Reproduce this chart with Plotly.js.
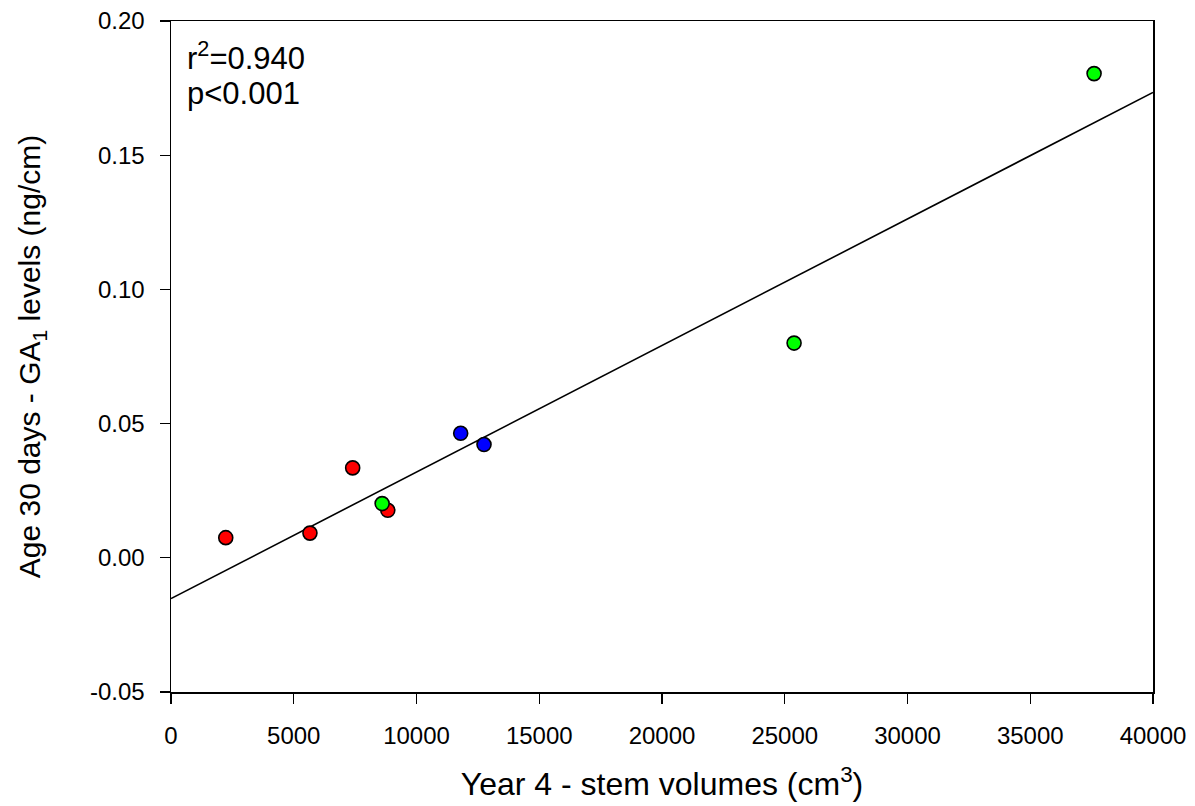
<!DOCTYPE html>
<html>
<head>
<meta charset="utf-8">
<script src="https://cdn.plot.ly/plotly-3.0.1.min.js"></script>
<style>body{margin:0;background:#fff}#chart{width:1195px;height:806px}</style>
</head>
<body>
<div id="chart"></div>
<script>
// Data
const redX = [2230, 5660, 7400, 8830];
const redY = [0.0075, 0.0092, 0.0335, 0.0177];
const greenX = [8600, 25380, 37600];
const greenY = [0.0202, 0.0800, 0.1804];
const blueX = [11800, 12750];
const blueY = [0.0464, 0.0422];
const fitX = [0, 40000];
const fitY = [-0.0152, 0.1734];
const xTicks = [0, 5000, 10000, 15000, 20000, 25000, 30000, 35000, 40000];
const yTicks = [-0.05, 0.00, 0.05, 0.10, 0.15, 0.20];
const yTickText = ["-0.05", "0.00", "0.05", "0.10", "0.15", "0.20"];
const statLines = ["r<sup>2</sup>=0.940", "p&lt;0.001"];

const font = "Liberation Sans, Arial, sans-serif";
function markerOf(c){ return {size: 14, color: c, line: {color: '#000', width: 1.6}}; }

const traces = [
  {x: fitX, y: fitY, mode: 'lines', line: {color: '#000', width: 1.6}, hoverinfo: 'skip'},
  {x: redX, y: redY, mode: 'markers', marker: markerOf('#FF0000')},
  {x: greenX, y: greenY, mode: 'markers', marker: markerOf('#00FF00')},
  {x: blueX, y: blueY, mode: 'markers', marker: markerOf('#0000FF')}
];

const axisCommon = {
  ticks: 'outside', ticklen: 10, tickwidth: 1.4, tickcolor: '#000',
  showline: true, linecolor: '#000', linewidth: 1.5, mirror: true,
  showgrid: false, zeroline: false,
  tickfont: {family: font, size: 24, color: '#000'}
};

const layout = {
  width: 1195, height: 806,
  margin: {l: 171, r: 42, t: 21, b: 114, pad: 0},
  paper_bgcolor: '#fff', plot_bgcolor: '#fff',
  showlegend: false,
  font: {family: font, color: '#000', size: 24},
  xaxis: Object.assign({}, axisCommon, {
    range: [0, 40000], tickvals: xTicks, ticktext: xTicks.map(String),
    ticklabelstandoff: 12,
    title: {text: 'Year 4 - stem volumes (cm<sup>3</sup>)', font: {family: font, size: 32, color: '#000'}, standoff: 24}
  }),
  yaxis: Object.assign({}, axisCommon, {
    range: [-0.05, 0.20], tickvals: yTicks, ticktext: yTickText,
    ticklabelstandoff: 10,
    title: {text: 'Age 30 days - GA<sub>1</sub> levels (ng/cm)', font: {family: font, size: 30, color: '#000'}, standoff: 40}
  }),
  annotations: [
    {xref: 'paper', yref: 'paper', x: 0.014, y: 0.948, xanchor: 'left', yanchor: 'middle',
     text: statLines[0], showarrow: false, align: 'left', font: {family: font, size: 31, color: '#000'}},
    {xref: 'paper', yref: 'paper', x: 0.014, y: 0.892, xanchor: 'left', yanchor: 'middle',
     text: statLines[1], showarrow: false, align: 'left', font: {family: font, size: 31, color: '#000'}}
  ]
};

Plotly.newPlot('chart', traces, layout, {displayModeBar: false, staticPlot: true});
</script>
</body>
</html>
